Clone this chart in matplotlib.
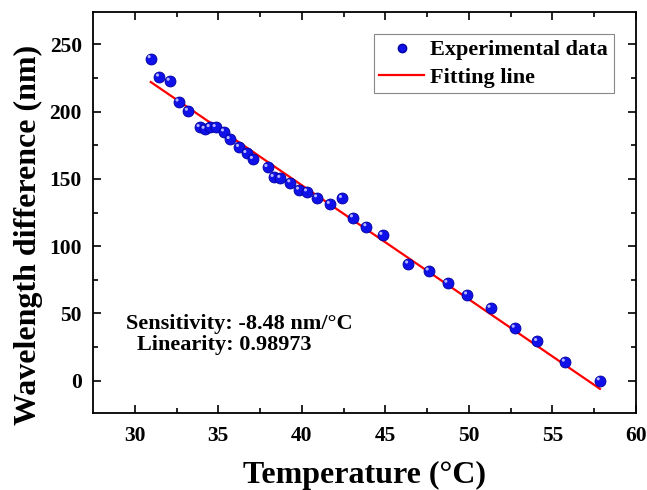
import numpy as np
import matplotlib
matplotlib.use("Agg")
import matplotlib.pyplot as plt
import matplotlib.transforms as mtransforms
from matplotlib.lines import Line2D

temperature = [30.96, 31.46, 32.10, 32.63, 33.19, 33.89, 34.19, 34.49, 34.85,
               35.35, 35.69, 36.25, 36.69, 37.08, 37.95, 38.32, 38.72, 39.32,
               39.84, 40.32, 40.92, 41.68, 42.41, 43.07, 43.87, 44.83, 46.37,
               47.60, 48.72, 49.90, 51.30, 52.75, 54.09, 55.75, 57.84]
wavelength_diff = [239.4, 225.7, 222.6, 207.2, 200.3, 188.2, 186.9, 188.2, 188.2,
                   184.9, 179.3, 173.4, 168.9, 164.5, 158.5, 151.1, 150.4, 147.1,
                   141.7, 140.4, 136.0, 131.1, 135.5, 121.1, 114.5, 108.1, 86.8,
                   81.6, 72.5, 63.8, 53.9, 39.1, 29.2, 13.9, 0.0]

# linear fit parameters
fit_slope = -8.48
fit_intercept = 484.5

plt.rcParams['font.family'] = ['Liberation Serif', 'DejaVu Serif']
plt.rcParams['font.weight'] = 'bold'

fig = plt.figure(figsize=(6.47, 4.90), dpi=100)
ax = fig.add_axes([0.1437, 0.157, 0.8393, 0.8185])

x = np.array(temperature)
y = np.array(wavelength_diff)

# fitting line
fit_x = np.array([x[0], x[-1]])
ax.plot(fit_x, fit_slope * fit_x + fit_intercept, color='red', lw=1.6, zorder=2)

# sphere-like markers: blue ball + small highlight
ax.scatter(x, y, s=62, color='#1010e8', edgecolors='#0000a0', linewidths=0.6, zorder=3)
shine = mtransforms.offset_copy(ax.transData, fig=fig, x=-1.2, y=1.4, units='points')
ax.scatter(x, y, s=5, color='#b8b8ff', edgecolors='none', transform=shine, zorder=4)

ax.set_xlim(27.5, 60)
ax.set_ylim(-24, 274)
ax.set_xticks([30, 35, 40, 45, 50, 55, 60])
ax.set_yticks([0, 50, 100, 150, 200, 250])
ax.set_xticks(np.arange(32.5, 60, 5), minor=True)
ax.set_yticks(np.arange(25, 275, 50), minor=True)
ax.tick_params(which='both', direction='in', top=True, right=True, width=1.2)
ax.tick_params(which='major', length=6, labelsize=15.5)
ax.tick_params(axis='x', which='major', pad=9)
ax.tick_params(axis='y', which='major', pad=8)
ax.tick_params(which='minor', length=3.5)
for s in ax.spines.values():
    s.set_linewidth(1.3)

ax.set_xlabel('Temperature (°C)', fontsize=23, fontweight='bold', labelpad=11)
ax.set_ylabel('Wavelength difference (nm)', fontsize=23, fontweight='bold')
ax.yaxis.set_label_coords(-0.092, 0.445)

ax.text(0.0608, 0.2087, 'Sensitivity: -8.48 nm/°C', transform=ax.transAxes,
        fontsize=16, fontweight='bold', va='baseline')
ax.text(0.0816, 0.157, 'Linearity: 0.98973', transform=ax.transAxes,
        fontsize=16, fontweight='bold', va='baseline')

handles = [Line2D([], [], ls='none', marker='o', ms=6, color='#1010e8', markeredgecolor='#0000a0'),
           Line2D([], [], color='red', lw=1.6)]
leg = ax.legend(handles, ['Experimental data', 'Fitting line'], loc='upper right',
                bbox_to_anchor=(1, 1), borderaxespad=1.0, fontsize=16, fancybox=False,
                framealpha=1, edgecolor='#888888', handlelength=2.0,
                borderpad=0.25, labelspacing=0.3, handletextpad=0.3)
leg.get_frame().set_linewidth(0.8)

fig.savefig('out.png', dpi=100)
